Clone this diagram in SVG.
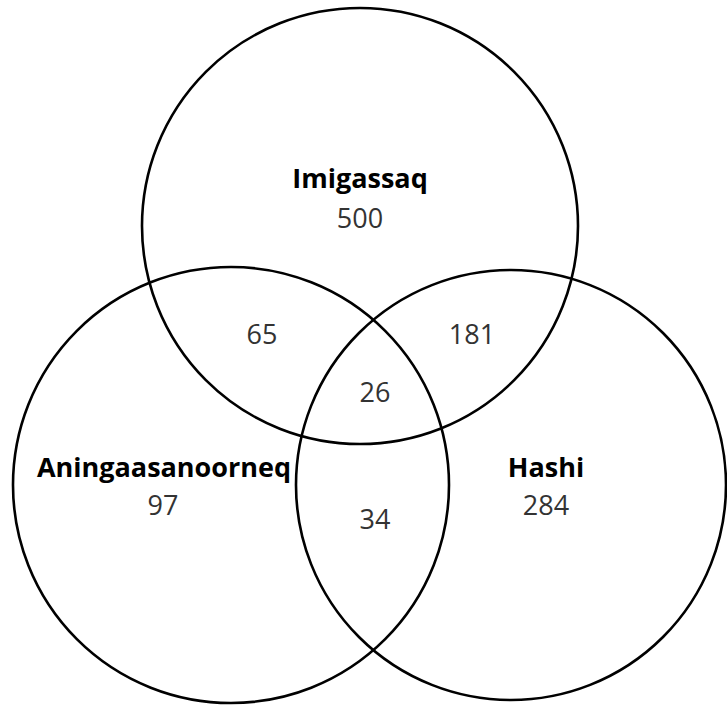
<svg xmlns="http://www.w3.org/2000/svg" width="727" height="707" viewBox="0 0 727 707">
<style>
.c{fill:none;stroke:#000;stroke-width:2.6}
.t{font-family:"Open Sans","Noto Sans",sans-serif;font-size:27px;text-anchor:middle;fill:#000}
.b{font-weight:bold}
.n{fill:#333}
</style>
<rect width="727" height="707" fill="#fff"/>
<g id="set-imigassaq">
<circle class="c" cx="360" cy="226" r="218"/>
<text class="t b" x="360" y="188">Imigassaq</text>
<text class="t n" x="360" y="228">500</text>
</g>
<g id="set-aningaasanoorneq">
<circle class="c" cx="231" cy="485" r="218"/>
<text class="t b" x="164" y="477">Aningaasanoorneq</text>
<text class="t n" x="163" y="515">97</text>
</g>
<g id="set-hashi">
<circle class="c" cx="511" cy="485" r="215"/>
<text class="t b" x="546" y="477">Hashi</text>
<text class="t n" x="546" y="515">284</text>
</g>
<g id="overlaps">
<text class="t n" x="262" y="344">65</text>
<text class="t n" x="472" y="344">181</text>
<text class="t n" x="375" y="402">26</text>
<text class="t n" x="375" y="529">34</text>
</g>
</svg>
